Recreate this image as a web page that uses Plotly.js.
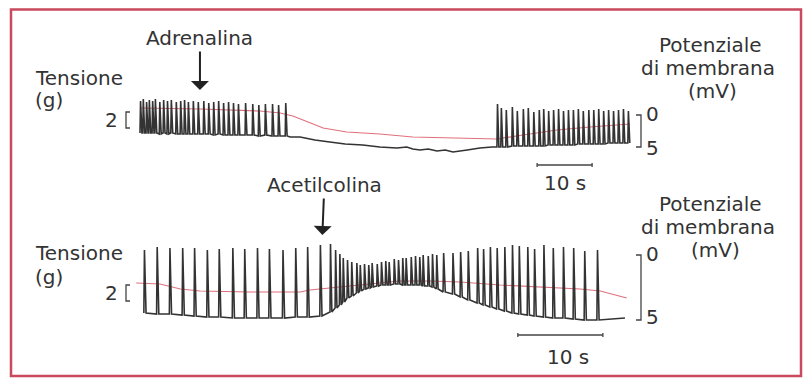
<!DOCTYPE html>
<html><head><meta charset="utf-8">
<script src="https://cdn.plot.ly/plotly-3.0.1.min.js"></script>
<style>html,body{margin:0;padding:0;background:#fff}</style>
</head><body><div id="chart" style="width:804px;height:379px"></div>
<script>
// ===== TOP PANEL (Adrenalina) : time in s, amplitude in arbitrary units =====
const topTrainA_t    = [0.0,0.5,1.1,1.6,2.2,2.7,3.5,4.2,4.9,5.6,6.5,7.3,8.0,8.7,9.6,10.5,11.5,12.4,13.3,14.2,15.1,16.0,16.9,17.8,19.1,20.4,21.5,22.7,24.0,25.1,26.4];
const topTrainA_peak = [59,61,58,60,59,61,58,60,59,60,58,59,60,58,59,58,59,57,58,59,57,58,57,56,57,56,55,56,56,55,57];
const topTrainA_base = [27,27,27,27,27,27,26,27,26,27,26,26,26,26,26,26,26,26,25,26,25,25,25,25,25,25,24,25,24,24,24];
const topDrift_t = [27.3,29.1,31.8,34.5,37.3,40.5,43.6,46.7,48.5,49.6,50.9,52.4,54.0,55.5,56.9,59.5,61.8,64.0];
const topDrift_v = [23,23,20,18,16,15,13,12,13,11,10,11,9,10,8,10,12,13];
const topTrainB_t    = [64.9,65.6,66.5,67.6,68.5,69.6,70.5,71.5,72.5,73.3,74.2,75.1,76.0,76.9,77.8,78.7,79.6,80.5,81.5,82.4,83.3,84.2,85.1,86.0,86.9,87.8,88.7];
const topTrainB_peak = [56,52,50,53,49,51,52,48,50,51,49,50,51,49,50,50,51,49,50,50,51,49,50,49,50,51,49];
const topTrainB_base = [13,13,13,14,14,14,14,14,14,14,15,15,15,15,15,15,16,16,16,16,16,16,17,17,17,17,17];
const topRed_t = [0,10.9,21.8,25.5,27.8,30.4,33.3,37.6,43.6,49.6,55.8,61.8,64.9,69.6,75.8,81.8,89.1];
const topRed_v = [52,51,49,47,44,38,32,28,26,23,22,21,21,25,30,33,36];
const topDrugTime = 10.9, topDrugLevel = 70;
const topScaleStart = 72.2, scaleLen = 10;

// ===== BOTTOM PANEL (Acetilcolina) =====
const botTrainA_t    = [0.1,1.6,3.1,4.6,6.0,7.5,8.9,10.5,11.9,13.4,14.8,16.4,17.9,19.3,20.8];
const botTrainA_peak = [80,83,82,82,82,80,81,82,81,82,81,80,82,83,85];
const botTrainA_base = [17,16,16,15,14,13,13,12,12,12,12,12,13,13,14];
const botTrainB_t    = [22.0,22.6,23.1,23.5,24.0,24.5,25.1,25.5,26.0,26.5,26.9,27.5,28.0,28.5,28.9,29.5,30.0,30.5,30.9,31.5,32.0,32.5,32.9,33.5,34.0,34.5];
const botTrainB_peak = [86,80,76,72,70,68,67,65,66,65,67,66,68,69,68,71,70,72,72,73,74,73,75,74,76,75];
const botTrainB_base = [18,22,25,28,32,34,37,39,41,42,43,44,45,45,45,46,46,45,45,45,45,45,44,44,43,41];
const botTrainC_t    = [35.3,36.4,37.3,38.2,39.3,40.0,40.8,41.6,42.5,43.4,44.2,45.2,46.0,47.1,48.2,49.4,50.6,51.9,53.4];
const botTrainC_peak = [77,77,78,79,82,81,83,82,83,85,84,83,81,85,82,83,82,79,80];
const botTrainC_base = [38,36,33,30,27,25,23,21,19,17,16,15,14,13,12,12,11,10,10];
const botTail_t = [56.7];
const botTail_v = [12];
const botRed_t = [-0.8,2.0,4.4,6.7,12.6,18.5,19.6,22.0,24.4,27.9,30.2,33.8,37.3,42.0,46.7,51.4,53.8,55.5,56.9];
const botRed_v = [47,46,41,39,38,38,40,42,44,47,49,49,48,45,43,41,39,35,32];
const botDrugTime = 21.1, botDrugLevel = 95;
const botScaleStart = 44.1;

// ===== build =====
function train(ts, peaks, bases, rise, fall){
  const x=[], y=[];
  ts.forEach((t,i)=>{ x.push(t, t+rise, t+fall); y.push(bases[i], peaks[i], bases[i]); });
  return {x, y};
}
const tA = train(topTrainA_t, topTrainA_peak, topTrainA_base, 0.1, 0.35);
const tB = train(topTrainB_t, topTrainB_peak, topTrainB_base, 0.1, 0.35);
const bA = train(botTrainA_t, botTrainA_peak, botTrainA_base, 0.07, 0.26);
const bB = train(botTrainB_t, botTrainB_peak, botTrainB_base, 0.06, 0.22);
const bC = train(botTrainC_t, botTrainC_peak, botTrainC_base, 0.07, 0.26);

const BLACK = '#333333', RED = '#e0707c', TXT = '#333333';
const W = 804, H = 379;
const px = v => v / W, py = v => 1 - v / H;

const traces = [
  {x: topRed_t, y: topRed_v, xaxis:'x', yaxis:'y', mode:'lines', line:{color:RED, width:1.2}, hoverinfo:'skip'},
  {x: [...tA.x, ...topDrift_t, ...tB.x], y: [...tA.y, ...topDrift_v, ...tB.y], xaxis:'x', yaxis:'y',
   mode:'lines', line:{color:BLACK, width:1.6}, hoverinfo:'skip'},
  {x: [topScaleStart, topScaleStart, null, topScaleStart, topScaleStart+scaleLen, null, topScaleStart+scaleLen, topScaleStart+scaleLen],
   y: [-7,-3,null,-5,-5,null,-7,-3], xaxis:'x', yaxis:'y', mode:'lines', line:{color:'#444', width:1.3}, hoverinfo:'skip'},
  {x: botRed_t, y: botRed_v, xaxis:'x2', yaxis:'y2', mode:'lines', line:{color:RED, width:1.2}, hoverinfo:'skip'},
  {x: [...bA.x, ...bB.x, ...bC.x, ...botTail_t], y: [...bA.y, ...bB.y, ...bC.y, ...botTail_v], xaxis:'x2', yaxis:'y2',
   mode:'lines', line:{color:BLACK, width:1.6}, hoverinfo:'skip'},
  {x: [botScaleStart, botScaleStart, null, botScaleStart, botScaleStart+scaleLen, null, botScaleStart+scaleLen, botScaleStart+scaleLen],
   y: [-7,-3,null,-5,-5,null,-7,-3], xaxis:'x2', yaxis:'y2', mode:'lines', line:{color:'#444', width:1.3}, hoverinfo:'skip'}
];

const F = {family:'DejaVu Sans, sans-serif', size:20, color:TXT};
function lab(text, x, y, xa){ return {text, x:px(x), y:py(y), xref:'paper', yref:'paper', xanchor:xa||'center', yanchor:'middle', showarrow:false, font:F}; }

const annotations = [
  {text:'Adrenalina', x:topDrugTime, y:topDrugLevel, xref:'x', yref:'y', ax:0, ay:-52, showarrow:true,
   arrowhead:1, arrowsize:1.5, arrowwidth:2, arrowcolor:'#222', standoff:0, font:F},
  {text:'Acetilcolina', x:botDrugTime, y:botDrugLevel, xref:'x2', yref:'y2', ax:2, ay:-50, showarrow:true,
   arrowhead:1, arrowsize:1.5, arrowwidth:2, arrowcolor:'#222', standoff:0, font:F},
  lab('Tensione', 33, 78, 'left'), lab('(g)', 33, 100, 'left'),
  lab('Tensione', 33, 253, 'left'), lab('(g)', 33, 277, 'left'),
  lab('2', 111, 120), lab('2', 111, 293),
  lab('Potenziale', 710, 45), lab('di membrana', 708, 68), lab('(mV)', 712, 91),
  lab('Potenziale', 710, 204), lab('di membrana', 708, 227), lab('(mV)', 715, 250),
  lab('0', 652, 114), lab('5', 652, 148), lab('0', 652, 254), lab('5', 652, 317),
  lab('10 s', 565, 183), lab('10 s', 568, 357)
];

function path(pts){ return 'M' + pts.map(p => px(p[0]) + ',' + py(p[1])).join(' L'); }
const shapes = [
  {type:'rect', xref:'paper', yref:'paper', x0:px(11), x1:px(801), y0:py(376), y1:py(9.5), line:{color:'#c94a5e', width:2.5}},
  {type:'path', xref:'paper', yref:'paper', path:path([[130,112],[126,112],[126,128],[130,128]]), line:{color:'#444', width:1.3}},
  {type:'path', xref:'paper', yref:'paper', path:path([[130,285],[126,285],[126,301],[130,301]]), line:{color:'#444', width:1.3}},
  {type:'path', xref:'paper', yref:'paper', path:path([[636,115],[641,115],[641,147],[636,147]]), line:{color:'#444', width:1.3}},
  {type:'path', xref:'paper', yref:'paper', path:path([[636,255],[641,255],[641,320],[636,320]]), line:{color:'#444', width:1.3}}
];

const ax = {visible:false, fixedrange:true, showgrid:false, zeroline:false};
const layout = {
  width:W, height:H, autosize:false, margin:{l:0,r:0,t:0,b:0,pad:0},
  paper_bgcolor:'#ffffff', plot_bgcolor:'rgba(0,0,0,0)', showlegend:false,
  xaxis: Object.assign({range:[-140/5.5, (W-140)/5.5], domain:[0,1]}, ax),
  yaxis: Object.assign({range:[-219, 160], domain:[0,1]}, ax),
  xaxis2: Object.assign({range:[-143/8.5, (W-143)/8.5], overlaying:'x', anchor:'y2'}, ax),
  yaxis2: Object.assign({range:[-49, 330], overlaying:'y', anchor:'x2'}, ax),
  annotations, shapes
};
Plotly.newPlot('chart', traces, layout, {displayModeBar:false, staticPlot:true});
</script></body></html>
